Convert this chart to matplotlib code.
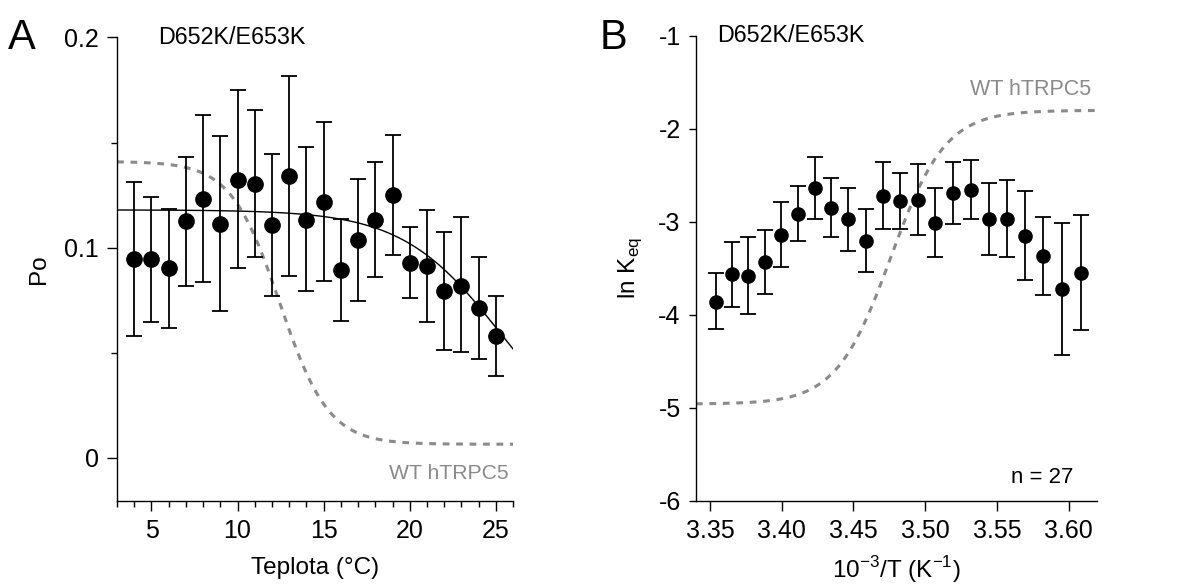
import numpy as np
import matplotlib
matplotlib.use("Agg")
import matplotlib.pyplot as plt
from matplotlib.ticker import MultipleLocator

plt.rcParams['font.family'] = ['Liberation Sans', 'DejaVu Sans']
plt.rcParams['axes.unicode_minus'] = False

# Panel A: open probability vs temperature (D652K/E653K)
temp_c = [4, 5, 6, 7, 8, 9, 10, 11, 12, 13, 14, 15, 16, 17, 18, 19, 20, 21, 22, 23, 24, 25]
po_mean = [0.0946, 0.0946, 0.0903, 0.1125, 0.1233, 0.1113, 0.1322, 0.1305, 0.1108, 0.1340, 0.1133,
           0.1217, 0.0895, 0.1038, 0.1133, 0.1252, 0.0927, 0.0911, 0.0792, 0.0820, 0.0713, 0.0578]
po_upper = [0.1313, 0.1240, 0.1186, 0.1432, 0.1630, 0.1530, 0.1749, 0.1656, 0.1448, 0.1819, 0.1478,
            0.1597, 0.1138, 0.1327, 0.1406, 0.1537, 0.1100, 0.1178, 0.1075, 0.1146, 0.0957, 0.0768]
po_lower = [0.0580, 0.0646, 0.0620, 0.0820, 0.0835, 0.0698, 0.0903, 0.0956, 0.0768, 0.0863, 0.0792,
            0.0840, 0.0649, 0.0748, 0.0860, 0.0967, 0.0760, 0.0646, 0.0514, 0.0502, 0.0470, 0.0390]

# fit parameters (Boltzmann-type)
fit_a = dict(top=0.118, bottom=0.0, mid=25.3, slope=2.87)
wt_a = dict(top=0.141, bottom=0.0065, mid=12.45, slope=1.42)

# Panel B: ln Keq vs 1000/T, points ordered 25 -> 4 degC
temp_b = [25, 24, 23, 22, 21, 20, 19, 18, 17, 16, 15, 14, 13, 12, 11, 10, 9, 8, 7, 6, 5, 4]
lnk_mean = [-3.858, -3.565, -3.580, -3.436, -3.144, -2.911, -2.640, -2.847, -2.972, -3.204, -2.722,
            -2.776, -2.765, -3.015, -2.686, -2.658, -2.972, -2.965, -3.151, -3.365, -3.722, -3.551]
lnk_upper = [-3.554, -3.219, -3.162, -3.086, -2.787, -2.615, -2.304, -2.525, -2.632, -2.857, -2.358,
             -2.479, -2.379, -2.640, -2.354, -2.332, -2.586, -2.547, -2.672, -2.947, -3.008, -2.929]
lnk_lower = [-4.158, -3.912, -3.994, -3.780, -3.490, -3.204, -2.972, -3.168, -3.312, -3.543, -3.079,
             -3.072, -3.144, -3.383, -3.026, -2.972, -3.354, -3.376, -3.626, -3.783, -4.430, -4.165]
wt_b = dict(low=-4.96, high=-1.80, mid=3.476, slope=0.019)


def boltz_down(x, p):
    return p['bottom'] + (p['top'] - p['bottom']) / (1 + np.exp((x - p['mid']) / p['slope']))


def boltz_up(x, p):
    return p['low'] + (p['high'] - p['low']) / (1 + np.exp(-(x - p['mid']) / p['slope']))


def style_axes(ax):
    for s in ['top', 'right']:
        ax.spines[s].set_visible(False)
    for s in ['left', 'bottom']:
        ax.spines[s].set_linewidth(1.0)
    ax.tick_params(which='major', direction='out', length=7, width=1.0, labelsize=18, pad=6)
    ax.tick_params(which='minor', direction='out', length=4, width=1.0)


fig = plt.figure(figsize=(11.81, 5.85), dpi=100)
gray = '#8a8a8a'

# ---- Panel A ----
axA = fig.add_axes([0.0991, 0.1436, 0.3353, 0.7923])
tA = np.array(temp_c)
yA = np.array(po_mean)
errA = [yA - np.array(po_lower), np.array(po_upper) - yA]
xx = np.linspace(3, 26, 300)
axA.plot(xx, boltz_down(xx, wt_a), color=gray, lw=2.2, dashes=(2.2, 2.2), zorder=1)
axA.plot(xx, boltz_down(xx, fit_a), color='black', lw=1.0, zorder=2)
axA.errorbar(tA, yA, yerr=errA, fmt='o', color='black', ms=11, elinewidth=1.3,
             capsize=6, capthick=1.3, zorder=3)
axA.set_xlim(3, 26)
axA.set_ylim(-0.0205, 0.2)
axA.set_xticks([5, 10, 15, 20, 25])
axA.xaxis.set_minor_locator(MultipleLocator(1))
axA.set_yticks([0, 0.1, 0.2])
axA.set_yticklabels(['0', '0.1', '0.2'])
axA.yaxis.set_minor_locator(MultipleLocator(0.05))
style_axes(axA)
axA.set_xlabel('Teplota (°C)', fontsize=17.5, labelpad=10)
axA.set_ylabel('Po', fontsize=17.5, labelpad=10)
axA.text(0.104, 1.0, 'D652K/E653K', transform=axA.transAxes, fontsize=16.8, va='center', ha='left')
axA.text(0.99, 0.06, 'WT hTRPC5', transform=axA.transAxes, fontsize=15.2, color=gray,
         ha='right', va='center')
fig.text(0.007, 0.935, 'A', fontsize=30, va='center', ha='left')

# ---- Panel B ----
axB = fig.add_axes([0.5893, 0.1441, 0.3397, 0.7944])
xB = 1000.0 / (np.array(temp_b) + 273.15)
yB = np.array(lnk_mean)
errB = [yB - np.array(lnk_lower), np.array(lnk_upper) - yB]
xb = np.linspace(3.3403, 3.6197, 300)
axB.plot(xb, boltz_up(xb, wt_b), color=gray, lw=2.2, dashes=(2.2, 2.2), zorder=1)
axB.errorbar(xB, yB, yerr=errB, fmt='o', color='black', ms=9.5, elinewidth=1.3,
             capsize=6, capthick=1.3, zorder=3)
axB.set_xlim(3.3403, 3.6197)
axB.set_ylim(-6, -1)
axB.set_xticks([3.35, 3.40, 3.45, 3.50, 3.55, 3.60])
axB.set_xticklabels(['3.35', '3.40', '3.45', '3.50', '3.55', '3.60'])
axB.set_yticks([-6, -5, -4, -3, -2, -1])
style_axes(axB)
axB.tick_params(axis='y', which='major', length=5)
axB.set_xlabel(r'10$^{\mathregular{-3}}$/T (K$^{\mathregular{-1}}$)', fontsize=17.5, labelpad=8)
axB.set_ylabel(r'ln K$_{\mathregular{eq}}$', fontsize=17.5, labelpad=10)
axB.text(0.052, 1.0, 'D652K/E653K', transform=axB.transAxes, fontsize=16.8, va='center', ha='left')
axB.text(0.985, 0.884, 'WT hTRPC5', transform=axB.transAxes, fontsize=15.5, color=gray,
         ha='right', va='center')
axB.text(0.94, 0.05, 'n = 27', transform=axB.transAxes, fontsize=16, ha='right', va='center')
fig.text(0.508, 0.935, 'B', fontsize=30, va='center', ha='left')

fig.savefig('out.png', dpi=100)
